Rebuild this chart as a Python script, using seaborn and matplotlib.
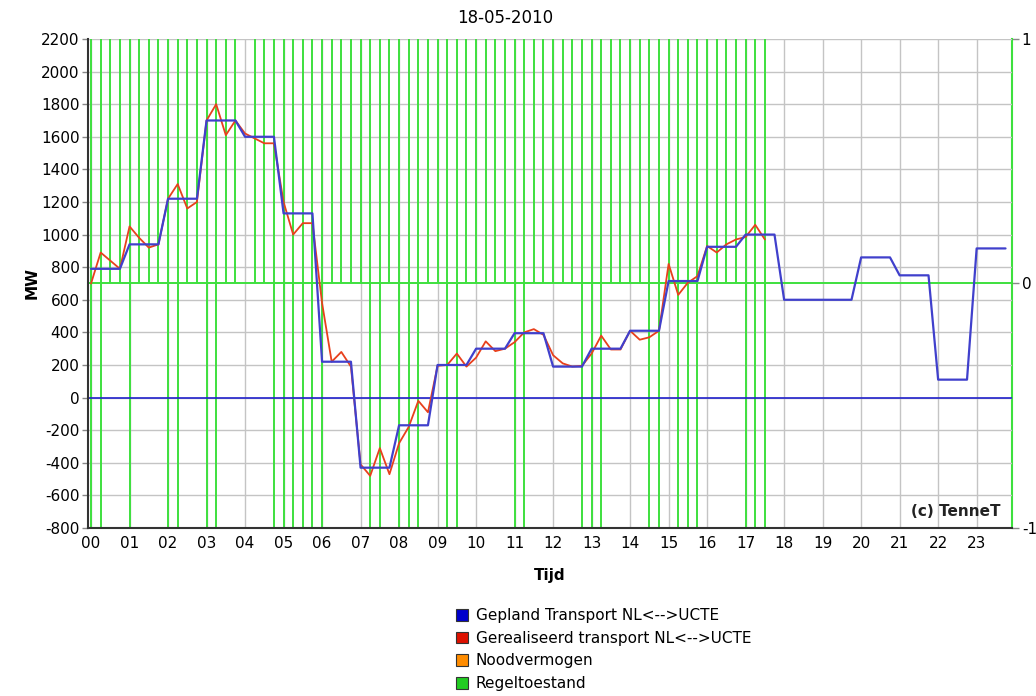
import matplotlib
matplotlib.use("Agg")
import matplotlib.pyplot as plt
import matplotlib.patches as patches
import seaborn as sns
import pandas as pd
import numpy as np

uren = [f"{h:02d}" for h in range(24)]
mw_ticks = list(range(-800, 2201, 200))

# planned transport, one value per hour
gepland_per_uur = [790, 940, 1220, 1700, 1600, 1130, 220, -430, -170, 200, 300, 395,
                   190, 300, 410, 715, 925, 1000, 600, 600, 860, 750, 110, 915]

# realised transport, one value per quarter hour (00:00 - 17:30)
gerealiseerd = [700, 890, 840, 790, 1050, 980, 920, 940,
                1220, 1310, 1160, 1200, 1700, 1800, 1610, 1700,
                1620, 1590, 1560, 1560, 1200, 1000, 1070, 1070,
                580, 220, 280, 190, -410, -480, -310, -470,
                -280, -180, -20, -90, 195, 200, 270, 190,
                245, 345, 285, 300, 340, 400, 420, 385,
                260, 210, 190, 195, 270, 380, 295, 295,
                410, 355, 370, 410, 820, 630, 705, 745,
                930, 890, 940, 970, 985, 1060, 970]

# regeltoestand per quarter hour: 0 = none, 1 = up, 2 = up and down
regeltoestand = [2, 2, 1, 1, 2, 1, 1, 1,
                 2, 2, 1, 1, 2, 2, 1, 1,
                 0, 1, 1, 2, 2, 2, 2, 2,
                 2, 1, 1, 1, 1, 2, 2, 1,
                 2, 2, 2, 1, 1, 2, 2, 1,
                 1, 1, 1, 1, 2, 2, 1, 1,
                 1, 1, 1, 2, 2, 2, 1, 1,
                 1, 1, 2, 2, 1, 2, 2, 2,
                 1, 1, 1, 1, 2, 2, 2]

legend_labels = ["Gepland Transport NL<-->UCTE", "Gerealiseerd transport NL<-->UCTE",
                 "Noodvermogen", "Regeltoestand"]
legend_colors = ["#0000cc", "#dd1100", "#ff8c00", "#22cc22"]

# Build the frames (quarter hour time axis in hours)
kwartier = np.arange(96) * 0.25
df_gepland = pd.DataFrame({"tijd": kwartier, "MW": np.repeat(gepland_per_uur, 4)})
df_real = pd.DataFrame({"tijd": kwartier[:len(gerealiseerd)], "MW": gerealiseerd})
regel = np.array(regeltoestand)
t_regel = kwartier[:len(regel)]

sns.set_style("white")
plt.rcParams['font.family'] = ['DejaVu Sans']
plt.rcParams['text.color'] = 'black'
plt.rcParams['axes.labelcolor'] = 'black'
plt.rcParams['xtick.color'] = 'black'
plt.rcParams['ytick.color'] = 'black'

fig = plt.figure(figsize=(10.36, 6.96), dpi=100)
ax = fig.add_axes([0.0849, 0.2414, 0.892, 0.7026])
ax2 = ax.twinx()
ax2.set_ylim(-1, 1)
ax.set_zorder(ax2.get_zorder() + 1)
ax.patch.set_visible(False)

ax.set_xlim(-0.08, 23.92)
ax.set_ylim(-800, 2200)

# grid
ax.set_xticks(range(24))
ax.set_xticklabels(uren, fontsize=11)
ax.set_yticks(mw_ticks)
ax.set_yticklabels([str(v) for v in mw_ticks], fontsize=11)
ax.grid(True, color='#c4c4c4', lw=1)
ax.set_axisbelow(True)

# Regeltoestand lines (on the right hand -1..1 scale)
green = '#3ee03e'
up = t_regel[regel >= 1]
down = t_regel[regel == 2]
ax.vlines(up, 0, 1, colors=green, lw=1.4, transform=ax2.transData, zorder=1)
ax.vlines(down, -1, 0, colors=green, lw=1.4, transform=ax2.transData, zorder=1)
ax.hlines(0, -0.08, 23.92, colors=green, lw=1.4, transform=ax2.transData, zorder=1)

# zero line
ax.axhline(0, color='#2222cc', lw=1.2, zorder=1.5)

# transport lines
sns.lineplot(data=df_real, x="tijd", y="MW", ax=ax, color='#e8401c', lw=1.3, zorder=2)
sns.lineplot(data=df_gepland, x="tijd", y="MW", ax=ax, color='#4040cc', lw=1.6, zorder=3)

ax.set_xlim(-0.08, 23.92)
ax.set_ylim(-800, 2200)

ax.set_xlabel("Tijd", fontsize=11, fontweight='bold', labelpad=12)
ax.set_ylabel("MW", fontsize=11, fontweight='bold', labelpad=1)

for s in ['top', 'right']:
    ax.spines[s].set_visible(False)
for s in ['left', 'bottom']:
    ax.spines[s].set_color('#333333')
    ax.spines[s].set_linewidth(1.5)
ax.tick_params(axis='both', length=4, width=1, color='#888888', pad=2)

ax2.set_yticks([-1, 0, 1])
ax2.set_yticklabels(['-1', '0', '1'], fontsize=11)
ax2.tick_params(axis='y', length=5, width=1, color='#888888', pad=2)
for s in ['top', 'left', 'bottom']:
    ax2.spines[s].set_visible(False)
ax2.spines['right'].set_color(green)
ax2.spines['right'].set_linewidth(1.5)

ax.text(0.987, 0.033, "(c) TenneT", transform=ax.transAxes, ha='right', va='center',
        fontsize=11, fontweight='bold', color='#222222', zorder=5)

fig.text(505 / 1036, 1 - 18 / 696, "18-05-2010", ha='center', va='center', fontsize=12)

handles = [patches.Patch(facecolor=c, edgecolor='#333333', lw=0.8) for c in legend_colors]
fig.legend(handles, legend_labels, loc='upper left', bbox_to_anchor=(450 / 1036, 1 - 602 / 696),
           frameon=False, fontsize=11, handlelength=0.8, handleheight=0.8,
           handletextpad=0.5, labelspacing=0.5, borderaxespad=0)

fig.savefig("out.png", dpi=100)
